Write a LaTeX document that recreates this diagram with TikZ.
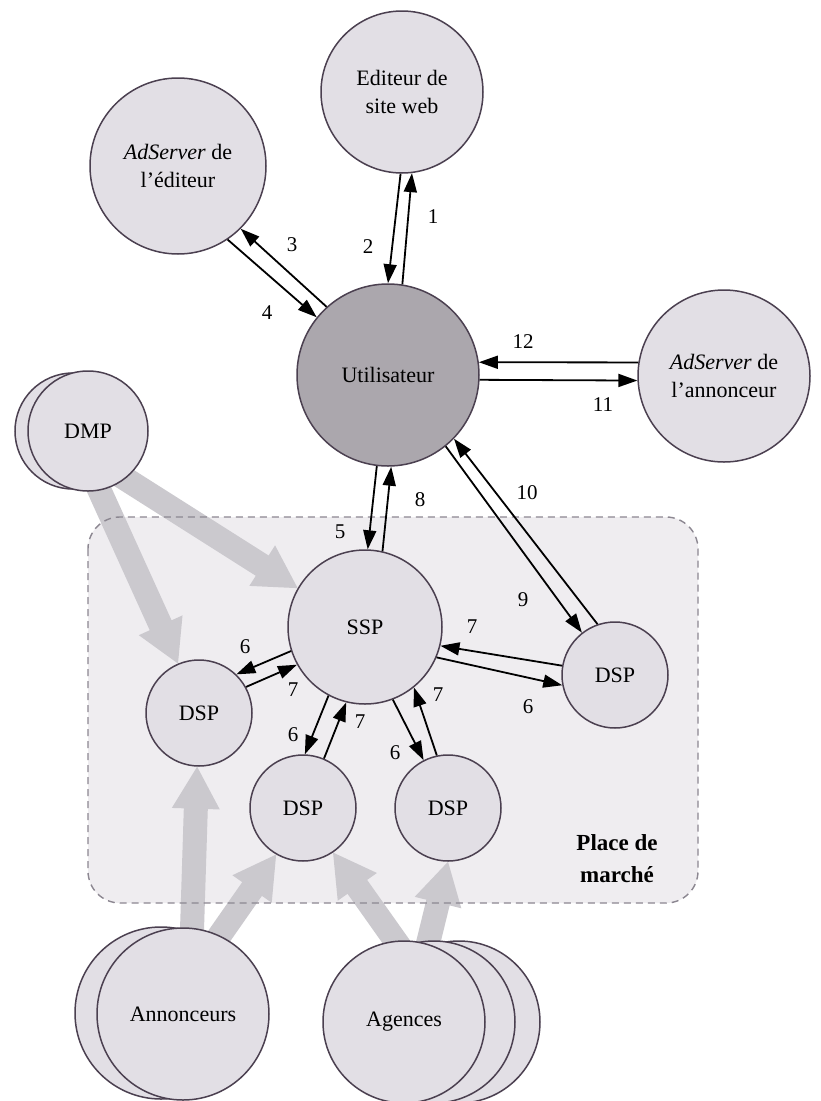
\documentclass[tikz,border=0pt]{standalone}
\usepackage{fontspec}
\setmainfont{Liberation Serif}
\usetikzlibrary{calc,arrows.meta}
\pgfdeclarelayer{bg}
\pgfdeclarelayer{mid}
\pgfsetlayers{bg,mid,main}

\definecolor{bubble}{HTML}{E2DFE5}
\definecolor{userfill}{HTML}{ABA7AD}
\definecolor{rim}{HTML}{4B4050}
\definecolor{zone}{HTML}{EFEDF0}
\definecolor{zoneline}{HTML}{8C8791}
\definecolor{fatgray}{HTML}{CBC9CE}

\tikzset{
  actor/.style={circle, draw=rim, line width=1.5pt, fill=bubble, inner sep=0pt,
    align=center, font=\fontsize{22}{28}\selectfont},
  flow/.style={draw=black, line width=1.8pt, -{Triangle[length=19pt,width=13pt]}},
  num/.style={font=\fontsize{21}{24}\selectfont, inner sep=0pt},
  zonebox/.style={rounded corners=32pt},
}

% broad grey arrow from #1 to #2, tail pushed back into the source circle
\newcommand\fatflow[2]{%
  \path ($(#1)!-14pt!(#2)$) coordinate (fs)
        (#2) coordinate (ft)
        ($(ft)!42pt!(fs)$) coordinate (fh);
  \fill[fatgray] ($(fs)!12pt!90:(ft)$) -- ($(fh)!12pt!90:(ft)$)
    -- ($(fh)!24pt!90:(ft)$) -- (ft) -- ($(fh)!24pt!-90:(ft)$)
    -- ($(fh)!12pt!-90:(ft)$) -- ($(fs)!12pt!-90:(ft)$) -- cycle;
}

\begin{document}
\begin{tikzpicture}[x=1pt,y=-1pt]
\useasboundingbox (0,0) rectangle (820,1101);
\begin{pgfonlayer}{bg}
  \fill[white] (0,0) rectangle (820,1101);
  \fill[zone, zonebox] (88,517) rectangle (698,903);
\end{pgfonlayer}

% stacked back circles
\node[actor, minimum size=116pt] (dmpback) at (73,431) {};
\node[actor, minimum size=172pt] (ancback) at (161,1013) {};
\node[actor, minimum size=162pt] (agcback2) at (459,1022) {};
\node[actor, minimum size=162pt] (agcback1) at (434,1022) {};

% actors
\node[actor, minimum size=162pt] (ed) at (402,92) {Editeur de\\site web};
\node[actor, minimum size=176pt] (ads) at (178,166) {\textit{AdServer} de\\l’éditeur};
\node[actor, minimum size=182pt, fill=userfill] (usr) at (388,375) {Utilisateur};
\node[actor, minimum size=172pt] (ann) at (724,376) {\textit{AdServer} de\\l’annonceur};
\node[actor, minimum size=120pt] (dmp) at (88,431) {DMP};
\node[actor, minimum size=154pt] (ssp) at (365,627) {SSP};
\node[actor, minimum size=106pt] (dspL) at (199,713) {DSP};
\node[actor, minimum size=106pt] (dspR) at (615,675) {DSP};
\node[actor, minimum size=106pt] (dspM) at (303,808) {DSP};
\node[actor, minimum size=106pt] (dspB) at (448,808) {DSP};
\node[actor, minimum size=172pt] (anc) at (183,1014) {Annonceurs};
\node[actor, minimum size=162pt] (agc) at (404,1022) {Agences};

\node[font=\fontsize{23}{32}\selectfont\bfseries, align=center] (mkt) at (617,859) {Place de\\marché};

% data flows into the market place
\begin{pgfonlayer}{mid}
  \fatflow{dmp.308}{ssp.150}
  \fatflow{dmp.281}{dspL.113}
  \fatflow{anc.84}{dspL.268}
  \fatflow{anc.65}{dspM.240}
  \fatflow{agc.96}{dspM.304}
  \fatflow{agc.73}{dspB.270}
  \draw[zoneline, line width=1.4pt, dash pattern=on 7pt off 5pt, zonebox]
    (88,517) rectangle (698,903);
\end{pgfonlayer}

% request / response exchanges
\draw[flow] (usr.81) -- (ed.277);
\draw[flow] (ed.269) -- (usr.90);
\draw[flow] (usr.132) -- (ads.315);
\draw[flow] (ads.304) -- (usr.141);
\draw[flow] (usr.263) -- (ssp.88);
\draw[flow] (ssp.198) -- (dspL.46);
\draw[flow] (ssp.242) -- (dspM.88);
\draw[flow] (ssp.291) -- (dspB.117);
\draw[flow] (ssp.337) -- (dspR.191);
\draw[flow] (dspL.29) -- (ssp.209);
\draw[flow] (dspM.67) -- (ssp.256);
\draw[flow] (dspB.102) -- (ssp.309);
\draw[flow] (dspR.170) -- (ssp.346);
\draw[flow] (ssp.77) -- (usr.272);
\draw[flow] (usr.309) -- (dspR.128);
\draw[flow] (dspR.109) -- (usr.316);
\draw[flow] (usr.357) -- (ann.183);
\draw[flow] (ann.171) -- (usr.8);

% step numbers
\node[num] (l1) at (433,217) {1};
\node[num] (l2) at (368,247) {2};
\node[num] (l3) at (292,245) {3};
\node[num] (l4) at (267,313) {4};
\node[num] (l5) at (340,532) {5};
\node[num] (l6a) at (245,647) {6};
\node[num] (l7a) at (293,690) {7};
\node[num] (l6b) at (293,735) {6};
\node[num] (l7b) at (360,722) {7};
\node[num] (l6c) at (395,753) {6};
\node[num] (l7c) at (438,695) {7};
\node[num] (l7d) at (472,627) {7};
\node[num] (l6d) at (528,707) {6};
\node[num] (l8) at (420,500) {8};
\node[num] (l9) at (523,600) {9};
\node[num] (l10) at (527,493) {10};
\node[num] (l11) at (603,405) {11};
\node[num] (l12) at (523,342) {12};
\end{tikzpicture}
\end{document}
